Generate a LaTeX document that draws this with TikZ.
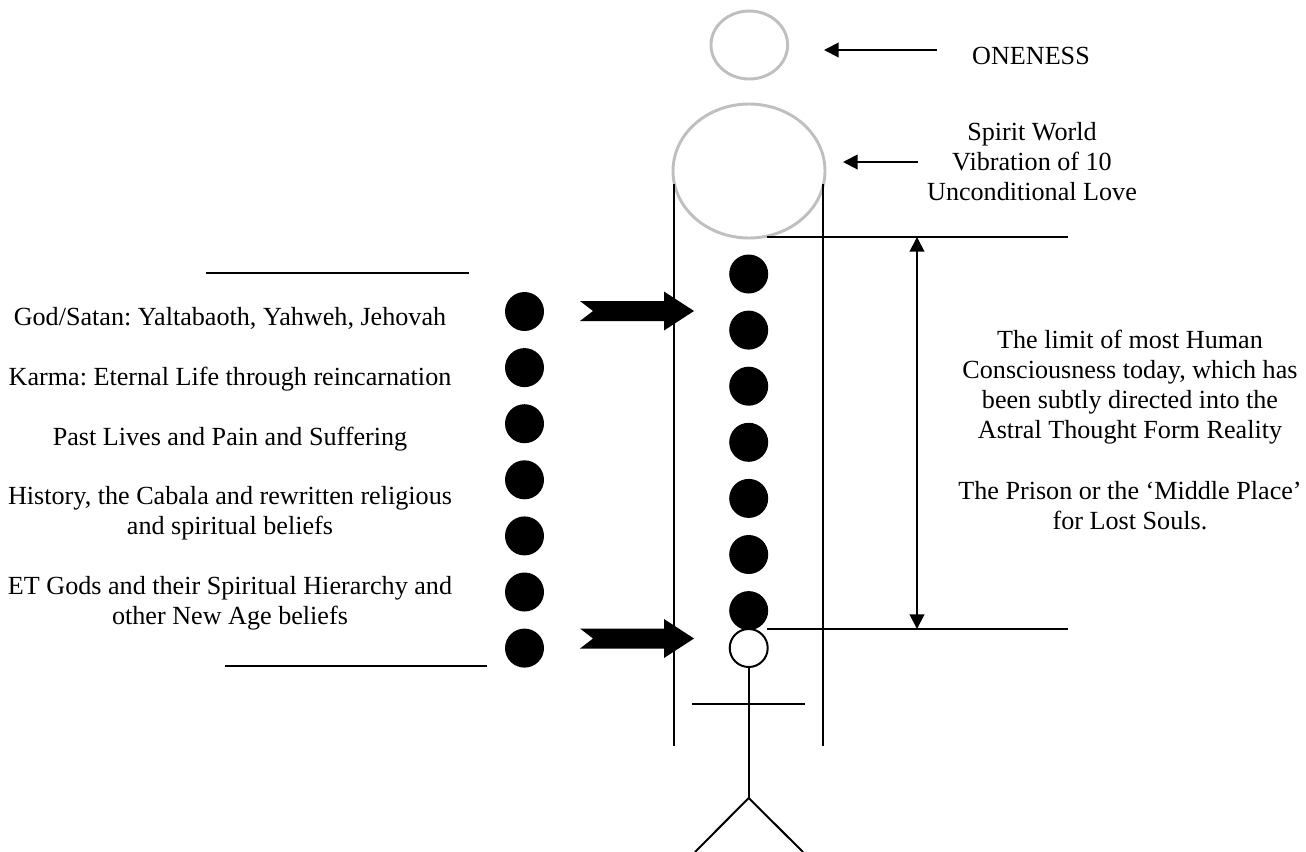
\documentclass[tikz,border=0pt]{standalone}
\usepackage{fontspec}
\setmainfont{Liberation Serif}
\usetikzlibrary{arrows.meta,positioning,shapes.geometric}
\tikzstyle{line} = [draw, line width=1.5pt]
\tikzstyle{dot} = [circle,fill=black,inner sep=0pt,minimum size=29.25pt]
\tikzstyle{halo} = [ellipse,draw=black!25,line width=2.2pt,inner sep=0pt]
\tikzstyle{lbl} = [align=center,anchor=base,font=\fontsize{19.6}{22.5}\selectfont\frenchspacing,inner sep=0pt]
\tikzset{>={Triangle[length=11pt,width=11pt]}}
\tikzset{bigarrow/.pic={
    \fill (0,-10) -- (84,-10) -- (84,-19.5) -- (114,0) -- (84,19.5) -- (84,10) -- (0,10) -- (13,0) -- cycle;
  }}
\begin{document}
\begin{tikzpicture}[x=0.75pt,y=-0.75pt]
    \useasboundingbox (0,0) rectangle (1306,851);
    % top ovals
    \node [halo,minimum width=57.5pt,minimum height=51pt] (oneness) at (749.3,45) {};
    \node [halo,minimum width=114pt,minimum height=100.5pt] (spirit) at (749,171) {};
    \node [lbl] (onenesstxt) at (1031,64) {ONENESS};
    \node [lbl] (spirittxt) at (1032,200) {Spirit World\\Vibration of 10\\Unconditional Love};
    \draw [line,->] (937,50) coordinate (a) -- (824,50);
    \draw [line,->] (918,162) coordinate (b) -- (843,162);

    % walls
    \draw [line] (674,184) coordinate (wl) -- (674,746);
    \draw [line,line width=1.2pt] (823,184) coordinate (wr) -- (823,746);

    % dots
    \foreach \i in {0,...,6} {
      \node [dot] (l\i) at (524.5,{311.5+56.1*\i}) {};
      \node [dot] (r\i) at (748.7,{274+56.1*\i}) {};
    }
    \node [circle,draw,fill=white,line width=1.5pt,inner sep=0pt,minimum size=28.5pt] (head) at (748.7,648) {};

    % limit lines
    \draw [line] (767,237) coordinate (t) -- (1068,237) coordinate (t2);
    \draw [line] (767,629) coordinate (u) -- (1068,629) coordinate (u2);
    \draw [line,<->] (917,237) -- (917,629);
    \draw [line] (206,273) -- (469,273);
    \draw [line] (225,666) -- (487,666);

    \pic at (580,311) {bigarrow};
    \pic at (580,638.5) {bigarrow};

    % figure
    \coordinate (hip) at (748.7,798);
    \draw [line] (head.south) -- (hip);
    \draw [line] (692,704) -- (805,704);
    \draw [line] (695,852) -- (hip) -- (803,852);

    % left text
    \node [lbl] (t1) at (230,325) {God/Satan: Yaltabaoth, Yahweh, Jehovah};
    \node [lbl] (t2l) at (230,385) {Karma: Eternal Life through reincarnation};
    \node [lbl] (t3) at (230,445) {Past Lives and Pain and Suffering};
    \node [lbl] (t4) at (230,534) {History, the Cabala and rewritten religious\\and spiritual beliefs};
    \node [lbl] (t5) at (230,624) {ET Gods and their Spiritual Hierarchy and\\other New Age beliefs};

    % right text
    \node [lbl] (r1) at (1130,438) {The limit of most Human\\Consciousness today, which has\\been subtly directed into the\\Astral Thought Form Reality};
    \node [lbl] (r2) at (1130,529) {The Prison or the `Middle Place'\\for Lost Souls.};
  \end{tikzpicture}
\end{document}
